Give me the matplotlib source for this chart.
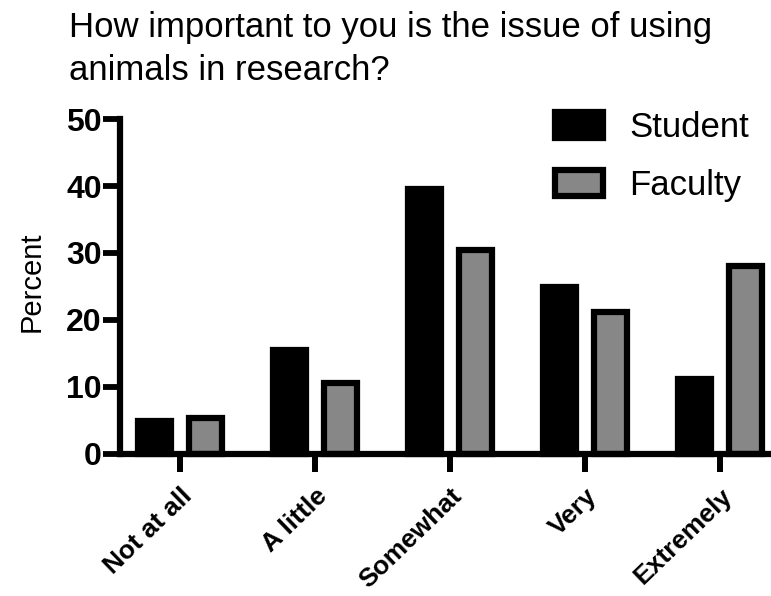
import matplotlib
matplotlib.use("Agg")
import matplotlib.pyplot as plt
import numpy as np

categories = ["Not at all", "A little", "Somewhat", "Very", "Extremely"]
student = [4.8, 15.5, 39.6, 24.9, 11.2]
faculty = [5.3, 10.5, 30.4, 21.2, 28.1]
series_names = ["Student", "Faculty"]
yticks = [0, 10, 20, 30, 40, 50]
title = "How important to you is the issue of using\nanimals in research?"
ylabel = "Percent"

plt.rcParams['font.family'] = ['Liberation Sans', 'DejaVu Sans']

W, H = 771, 596
fig = plt.figure(figsize=(W / 100, H / 100), dpi=100)
ax_left, ax_right = 120 / W, 1.0
ax_bottom, ax_top = 1 - 453.5 / H, 1 - 119.3 / H
ax = fig.add_axes([ax_left, ax_bottom, ax_right - ax_left, ax_top - ax_bottom])

x = np.arange(len(categories))
bw = 0.248
off = 0.19
lw = 4.5
ax.bar(x - off, student, width=bw, color='black', edgecolor='black',
       linewidth=lw, label=series_names[0], clip_on=False)
ax.bar(x + off, faculty, width=bw, color='#878787', edgecolor='black',
       linewidth=lw, label=series_names[1], clip_on=False)

ax.set_xlim(-60 / 135, (W - 180) / 135)
ax.set_ylim(0, 50)
ax.set_yticks(yticks)
ax.set_yticklabels([str(v) for v in yticks], fontsize=23, fontweight='bold')
ax.set_xticks(x)
ax.set_xticklabels(categories, fontsize=19, fontweight='bold', rotation=44,
                   ha='right', va='top', rotation_mode='anchor')

for s in ['top', 'right']:
    ax.spines[s].set_visible(False)
for s in ['left', 'bottom']:
    ax.spines[s].set_linewidth(4.5)
    ax.spines[s].set_capstyle('projecting')

ax.tick_params(axis='y', length=12.2, width=4.2, pad=1, direction='out')
ax.tick_params(axis='x', length=13, width=4.3, pad=9, direction='out')

ax.set_ylabel(ylabel, fontsize=21)
ax.yaxis.set_label_coords((46 - 120) / 651, 0.513)

fig.text(69 / W, 1 - 11 / H, title, fontsize=25, ha='left', va='top',
         linespacing=1.37)

leg = ax.legend(loc='upper left', bbox_to_anchor=(555 / W, 1 - 111 / H),
                bbox_transform=fig.transFigure, frameon=False, fontsize=25,
                handlelength=1.38, handleheight=0.8, handletextpad=0.75,
                labelspacing=0.72, borderpad=0, borderaxespad=0)

fig.savefig("out.png", dpi=100)
